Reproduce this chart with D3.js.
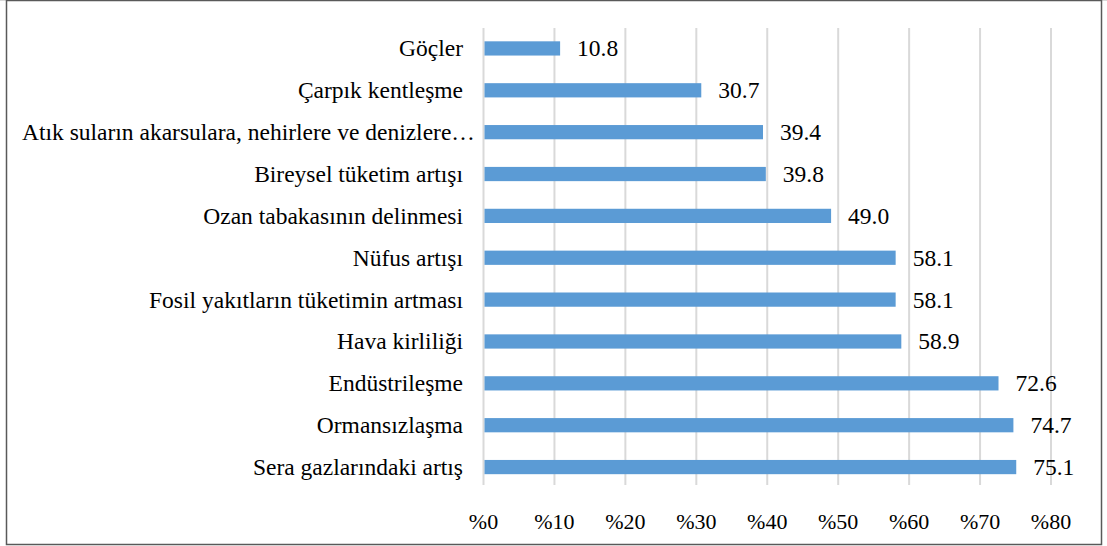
<!DOCTYPE html>
<html>
<head>
<meta charset="utf-8">
<script src="https://cdn.jsdelivr.net/npm/d3@7"></script>
</head>
<body style="margin:0; background:#fff">
<div id="chart"></div>
<script>
var categories = [
    "Göçler",
    "Çarpık kentleşme",
    "Atık suların akarsulara, nehirlere ve denizlere…",
    "Bireysel tüketim artışı",
    "Ozan tabakasının delinmesi",
    "Nüfus artışı",
    "Fosil yakıtların tüketimin artması",
    "Hava kirliliği",
    "Endüstrileşme",
    "Ormansızlaşma",
    "Sera gazlarındaki artış"
];
var values = [10.8, 30.7, 39.4, 39.8, 49.0, 58.1, 58.1, 58.9, 72.6, 74.7, 75.1];
var ticks = [0, 10, 20, 30, 40, 50, 60, 70, 80];

var width = 1107, height = 546;
var fontName = 'Liberation Serif, Tinos, Times New Roman, Times, serif';

var svg = d3.select('#chart').append('svg')
    .attr('width', width).attr('height', height)
    .attr('font-family', fontName)
    .style('font-family', fontName);

// frame
svg.append('line').attr('x1', 0).attr('x2', width).attr('y1', 0.5).attr('y2', 0.5)
    .attr('stroke', '#d9d9d9').attr('stroke-width', 1);
svg.append('rect')
    .attr('x', 6.5).attr('y', 0.5)
    .attr('width', 1095).attr('height', 544)
    .attr('fill', 'none')
    .attr('stroke', '#595959')
    .attr('stroke-width', 1.5);

var x = d3.scaleLinear().domain([0, 80]).range([483.5, 1051]);
var y = d3.scaleBand().domain(categories).range([27.5, 488]).paddingInner(0.66).paddingOuter(0.33);

// gridlines
svg.append('g').attr('class', 'grid')
    .selectAll('line')
    .data(ticks)
    .enter()
        .append('line')
        .attr('x1', (d) => x(d))
        .attr('x2', (d) => x(d))
        .attr('y1', 28)
        .attr('y2', 485)
        .attr('stroke', '#d9d9d9')
        .attr('stroke-width', 2);

// bars
svg.append('g').attr('class', 'bars')
    .selectAll('rect')
    .data(values)
    .enter()
        .append('rect')
        .attr('x', x(0) + 1)
        .attr('y', (d, i) => y(categories[i]))
        .attr('width', (d) => x(d) - x(0) - 1)
        .attr('height', y.bandwidth())
        .attr('fill', '#5b9bd5');

// value labels
svg.append('g').attr('class', 'values')
    .selectAll('text')
    .data(values)
    .enter()
        .append('text')
        .attr('x', (d) => x(d) + 17)
        .attr('y', (d, i) => y(categories[i]) + y.bandwidth() / 2 + 8)
        .attr('font-family', fontName)
        .attr('font-size', 23.5)
        .style('font-family', fontName)
        .attr('fill', '#000')
        .text((d) => d.toFixed(1));

// category labels (a label too long for the space starts at the left edge, as in Excel)
svg.append('g').attr('class', 'cats')
    .selectAll('text')
    .data(categories)
    .enter()
        .append('text')
        .attr('x', 463)
        .attr('y', (d) => y(d) + y.bandwidth() / 2 + 8)
        .attr('text-anchor', 'end')
        .attr('font-family', fontName)
        .attr('font-size', 23.5)
        .style('font-family', fontName)
        .attr('fill', '#000')
        .text((d) => d)
        .each(function () {
            if (463 - this.getComputedTextLength() < 22) {
                d3.select(this).attr('x', 22).attr('text-anchor', 'start');
            }
        });

// x axis labels
svg.append('g').attr('class', 'ticks')
    .selectAll('text')
    .data(ticks)
    .enter()
        .append('text')
        .attr('x', (d) => x(d))
        .attr('y', 529)
        .attr('text-anchor', 'middle')
        .attr('font-family', fontName)
        .attr('font-size', 22)
        .style('font-family', fontName)
        .attr('fill', '#000')
        .text((d) => '%' + d);
</script>
</body>
</html>
